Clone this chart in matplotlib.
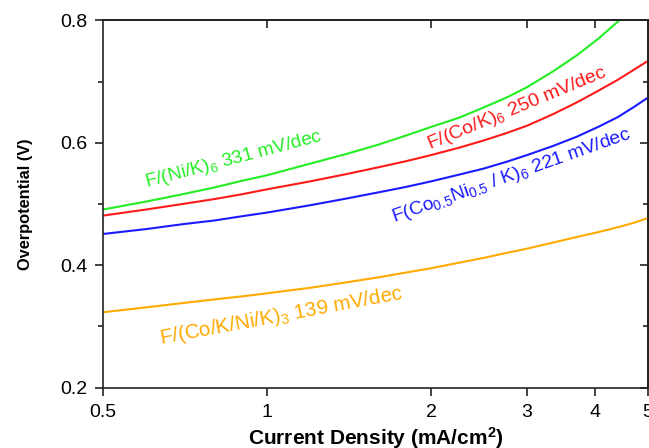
import matplotlib
matplotlib.use("Agg")
import matplotlib.pyplot as plt
from matplotlib.ticker import FixedLocator, NullLocator, FixedFormatter

plt.rcParams["font.family"] = ["Liberation Sans", "DejaVu Sans"]
plt.rcParams["mathtext.fontset"] = "custom"
plt.rcParams["mathtext.rm"] = "Liberation Sans"
plt.rcParams["mathtext.it"] = "Liberation Sans:italic"
plt.rcParams["mathtext.bf"] = "Liberation Sans:bold"

# current density (mA/cm2) and overpotential (V)
j = [0.5, 0.6, 0.7, 0.8, 0.9, 1.0, 1.2, 1.4, 1.6, 1.8, 2.0, 2.25, 2.5, 2.75,
     3.0, 3.35, 3.7, 4.05, 4.4, 4.7, 5.0]
eta_ni = [0.491, 0.504, 0.516, 0.527, 0.538, 0.547, 0.566, 0.582, 0.597, 0.612, 0.626,
          0.641, 0.658, 0.674, 0.691, 0.717, 0.743, 0.770, 0.798, 0.821, 0.844]
eta_co = [0.481, 0.491, 0.500, 0.508, 0.516, 0.524, 0.537, 0.549, 0.560, 0.570, 0.580,
          0.592, 0.604, 0.616, 0.628, 0.647, 0.666, 0.685, 0.703, 0.719, 0.734]
eta_coni = [0.451, 0.459, 0.467, 0.473, 0.480, 0.486, 0.498, 0.509, 0.519, 0.528, 0.537,
            0.548, 0.558, 0.569, 0.580, 0.595, 0.610, 0.626, 0.642, 0.658, 0.674]
eta_conik = [0.323, 0.331, 0.338, 0.344, 0.349, 0.354, 0.363, 0.372, 0.380, 0.388, 0.395,
             0.404, 0.412, 0.420, 0.427, 0.437, 0.446, 0.454, 0.462, 0.469, 0.477]

labels = [
    "F/(Ni/K)$_6$ 331 mV/dec",
    "F/(Co/K)$_6$ 250 mV/dec",
    "F(Co$_{0.5}$Ni$_{0.5}$ / K)$_6$ 221 mV/dec",
    "F/(Co/K/Ni/K)$_3$ 139 mV/dec",
]
colors = ["#22ee22", "#ff1a1a", "#1a1aff", "#ffaa00"]
series = [eta_ni, eta_co, eta_coni, eta_conik]
# label anchor (j, eta), angle and size
label_pos = [(0.87, 0.572, 14.8, 13.8), (2.88, 0.656, 22.4, 14.0),
             (2.81, 0.546, 19.5, 13.9), (1.06, 0.317, 10.6, 14.8)]

xticks = [0.5, 1, 2, 3, 4, 5]
xticklabels = ["0.5", "1", "2", "3", "4", "5"]

fig = plt.figure(figsize=(6.49, 4.48), dpi=100)
ax = fig.add_axes([103 / 649, 1 - 387.5 / 448, (648 - 103) / 649, (387.5 - 20.5) / 448])

for y, c in zip(series, colors):
    ax.plot(j, y, color=c, lw=1.5)

for (x, y, rot, fs), txt, c in zip(label_pos, labels, colors):
    ax.text(x, y, txt, color=c, fontsize=fs, rotation=rot, rotation_mode="anchor",
            ha="center", va="center")

ax.set_xscale("log")
ax.set_xlim(0.5, 5)
ax.set_ylim(0.2, 0.8)
ax.xaxis.set_major_locator(FixedLocator(xticks))
ax.xaxis.set_major_formatter(FixedFormatter(xticklabels))
ax.xaxis.set_minor_locator(NullLocator())
ax.set_yticks([0.2, 0.4, 0.6, 0.8])
ax.set_yticks([0.3, 0.5, 0.7], minor=True)

ax.tick_params(axis="both", which="major", labelsize=14, length=6, width=1.2, color="#222")
ax.tick_params(axis="y", which="minor", length=3.5, width=1.2, color="#222")
ax.tick_params(axis="x", which="major", pad=6)
ax.tick_params(axis="y", which="major", pad=5)

# ticks on top and right pointing inwards
top = ax.secondary_xaxis("top")
top.set_xticks([1, 2, 3, 4])
top.xaxis.set_minor_locator(NullLocator())
top.tick_params(direction="in", length=6, width=1.2, labeltop=False, color="#222")
right = ax.secondary_yaxis("right")
right.set_yticks([0.2, 0.4, 0.6, 0.8])
right.set_yticks([0.3, 0.5, 0.7], minor=True)
right.tick_params(which="major", direction="in", length=6, width=1.2, labelright=False, color="#222")
right.tick_params(which="minor", direction="in", length=3.5, width=1.2, color="#222")
top.spines["top"].set_linewidth(1.2)
right.spines["right"].set_linewidth(1.2)

for s in ax.spines.values():
    s.set_linewidth(1.2)
    s.set_color("#222")

ax.set_ylabel("Overpotential (V)", fontsize=11.8, fontweight="bold", labelpad=20)
ax.set_xlabel("Current Density (mA/cm$^\\mathbf{2}$)", fontsize=15, fontweight="bold", labelpad=3)

fig.savefig("out.png", dpi=100)
